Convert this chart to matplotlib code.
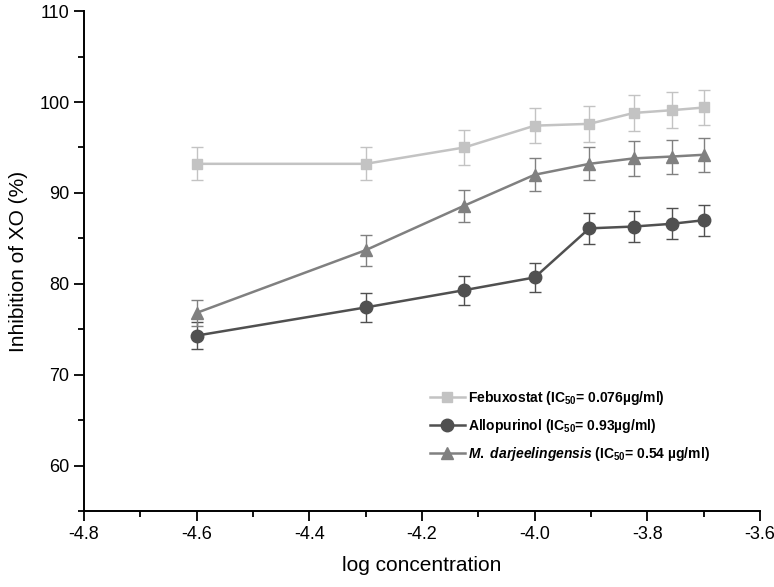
import matplotlib
matplotlib.use('Agg')
import matplotlib.pyplot as plt
from matplotlib.ticker import MultipleLocator

plt.rcParams['font.family'] = ['Liberation Sans', 'DejaVu Sans']
plt.rcParams['mathtext.fontset'] = 'custom'
plt.rcParams['mathtext.rm'] = 'Liberation Sans:bold'
plt.rcParams['mathtext.bf'] = 'Liberation Sans:bold'
plt.rcParams['mathtext.it'] = 'Liberation Sans:italic:bold'

# log concentrations
log_conc = [-4.6, -4.3, -4.125, -4.0, -3.903, -3.824, -3.757, -3.699]

febux = [93.2, 93.2, 95.0, 97.4, 97.6, 98.8, 99.1, 99.4]
febux_err = [1.83, 1.83, 1.9, 1.93, 1.95, 2.0, 1.98, 1.96]

allop = [74.3, 77.4, 79.3, 80.7, 86.1, 86.3, 86.6, 87.0]
allop_err = [1.5, 1.55, 1.6, 1.6, 1.67, 1.72, 1.72, 1.72]

mdar = [76.8, 83.7, 88.6, 92.0, 93.2, 93.8, 94.0, 94.2]
mdar_err = [1.43, 1.7, 1.76, 1.83, 1.83, 1.9, 1.87, 1.87]

labels = ['Febuxostat (IC$_{50}$= 0.076µg/ml)',
          'Allopurinol (IC$_{50}$= 0.93µg/ml)',
          r'$\it{M.\ darjeelingensis}$ (IC$_{50}$= 0.54 µg/ml)']

fig = plt.figure(figsize=(7.74, 5.87), dpi=100)
ax = fig.add_axes([0.1085, 0.1295, 0.8735, 0.8515])

series = [
    (febux, febux_err, '#c3c3c3', 's', 7.5),
    (allop, allop_err, '#505050', 'o', 9),
    (mdar, mdar_err, '#808080', '^', 9),
]
handles = []
for (vals, errs, col, mk, ms), lab in zip(series, labels):
    c = ax.errorbar(log_conc, vals, yerr=errs, color=col, ecolor=col,
                    marker=mk, markersize=ms, linewidth=1.8, elinewidth=1.0,
                    capsize=4, capthick=1.0, label=lab)
    handles.append(c[0])

ax.set_xlim(-4.8, -3.6)
ax.set_ylim(55, 110)
ax.xaxis.set_major_locator(MultipleLocator(0.2))
ax.xaxis.set_minor_locator(MultipleLocator(0.1))
ax.yaxis.set_minor_locator(MultipleLocator(5))
ax.set_yticks([60, 70, 80, 90, 100, 110])
ax.xaxis.set_major_formatter(plt.FuncFormatter(lambda v, p: f"{v:.1f}"))

for s in ['top', 'right']:
    ax.spines[s].set_visible(False)
for s in ['left', 'bottom']:
    ax.spines[s].set_linewidth(1.4)

ax.tick_params(axis='both', which='major', direction='out', length=7,
               width=1.3, labelsize=13)
ax.tick_params(axis='both', which='minor', direction='out', length=4,
               width=1.3)

ax.set_xlabel('log concentration', fontsize=15, labelpad=10)
ax.set_ylabel('Inhibition of XO (%)', fontsize=15, labelpad=8)

ax.legend(handles, labels, loc='upper left', bbox_to_anchor=(0.512, 0.245),
          frameon=False, prop={'weight': 'bold', 'size': 10},
          handlelength=2.5, labelspacing=0.75, handletextpad=0.25,
          borderpad=0, borderaxespad=0)

fig.savefig('out.png', dpi=100)
